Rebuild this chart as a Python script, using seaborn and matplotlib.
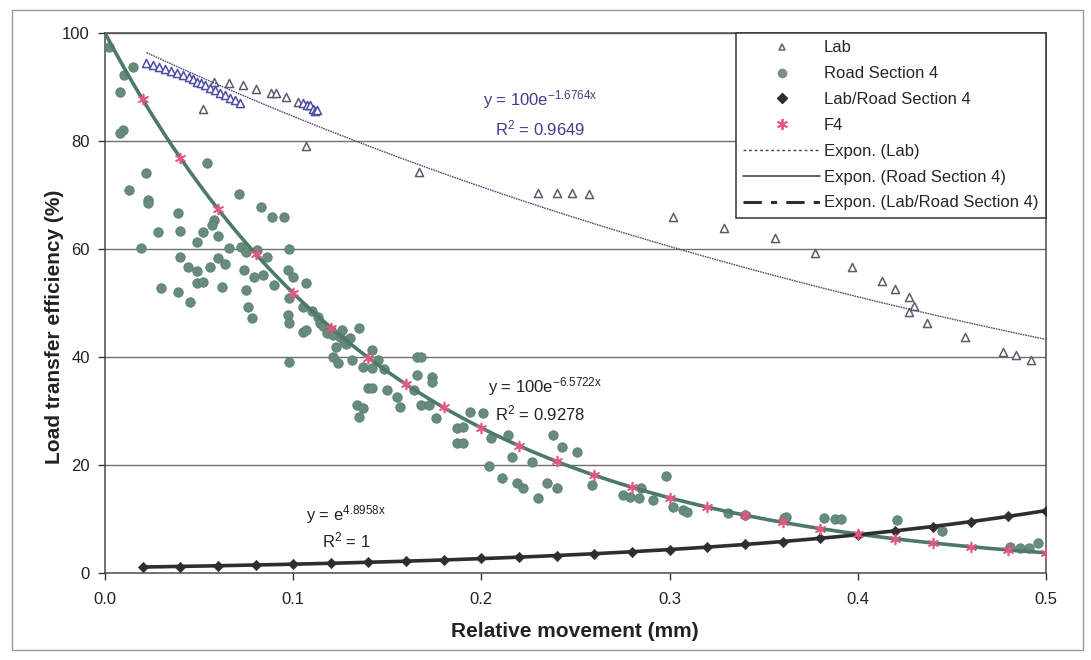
import numpy as np
import pandas as pd
import matplotlib
matplotlib.use("Agg")
import matplotlib.pyplot as plt
from matplotlib.lines import Line2D
from matplotlib.patches import Rectangle
import seaborn as sns

# ---------------- data ----------------
lab_x = [0.022, 0.0254, 0.0285, 0.032, 0.035, 0.038, 0.0414, 0.0446, 0.047, 0.049,
         0.051, 0.053, 0.0558, 0.0584, 0.061, 0.0638, 0.0664, 0.069, 0.0717,
         0.105, 0.1075, 0.109, 0.1103, 0.1115, 0.1126,
         0.052, 0.058, 0.066, 0.0735, 0.080, 0.088, 0.091, 0.096, 0.1026, 0.107,
         0.167, 0.230, 0.240, 0.248, 0.257, 0.302, 0.329, 0.356, 0.377, 0.397,
         0.413, 0.420, 0.427, 0.430, 0.427, 0.437, 0.457, 0.477, 0.484, 0.492]
lab_y = [94.4, 94.1, 93.7, 93.4, 93.0, 92.6, 92.2, 91.9, 91.5, 91.0,
         90.7, 90.4, 89.8, 89.4, 88.9, 88.5, 88.0, 87.6, 87.0,
         87.0, 86.6, 86.7, 86.0, 85.5, 85.7,
         86.0, 91.0, 90.7, 90.4, 89.6, 88.9, 88.9, 88.2, 87.2, 79.1,
         74.3, 70.3, 70.3, 70.3, 70.2, 65.9, 63.9, 62.0, 59.3, 56.7,
         54.1, 52.6, 51.1, 49.4, 48.3, 46.3, 43.7, 40.9, 40.4, 39.4]
lab_tone = ["blue"] * 25 + ["grey"] * 30

road_x = [0.002, 0.015, 0.010, 0.008, 0.0096, 0.008, 0.022, 0.054, 0.013, 0.023,
          0.023, 0.071, 0.039, 0.083, 0.089, 0.095, 0.028, 0.040, 0.058, 0.057,
          0.052, 0.060, 0.049, 0.019, 0.066, 0.072, 0.075, 0.081, 0.086, 0.098,
          0.040, 0.044, 0.049, 0.056, 0.060, 0.064, 0.074, 0.079, 0.084, 0.090,
          0.097, 0.100, 0.107, 0.049, 0.052, 0.030, 0.039, 0.045, 0.062, 0.075,
          0.076, 0.078, 0.097, 0.098, 0.105, 0.098, 0.105, 0.113, 0.120, 0.125,
          0.098, 0.107, 0.114, 0.126, 0.135, 0.123, 0.121, 0.124, 0.131, 0.142,
          0.137, 0.142, 0.140, 0.142, 0.150, 0.155, 0.157, 0.134, 0.137, 0.135,
          0.166, 0.168, 0.166, 0.174, 0.174, 0.164, 0.168, 0.172, 0.176, 0.187,
          0.190, 0.194, 0.201, 0.187, 0.190, 0.205, 0.214, 0.204, 0.216, 0.227,
          0.238, 0.243, 0.251, 0.211, 0.219, 0.222, 0.230, 0.235, 0.240, 0.259,
          0.275, 0.279, 0.284, 0.285, 0.291, 0.298, 0.302, 0.307, 0.309, 0.331,
          0.340, 0.361, 0.362, 0.382, 0.388, 0.391, 0.421, 0.445, 0.481, 0.486,
          0.491, 0.496, 0.110, 0.116, 0.118, 0.128, 0.130, 0.145, 0.148, 0.121,
          0.127]
road_y = [97.4, 93.7, 92.2, 89.0, 82.0, 81.5, 74.0, 75.9, 71.0, 69.0,
          68.5, 70.2, 66.7, 67.8, 66.0, 66.0, 63.2, 63.3, 65.3, 64.4,
          63.2, 62.4, 61.3, 60.2, 60.2, 60.4, 59.4, 59.8, 58.5, 60.0,
          58.5, 56.7, 56.0, 56.7, 58.3, 57.2, 56.1, 54.8, 55.2, 53.3,
          56.1, 54.8, 53.7, 53.7, 53.9, 52.8, 52.0, 50.2, 53.0, 52.4,
          49.3, 47.2, 47.8, 46.3, 44.6, 50.9, 49.3, 47.4, 45.0, 43.7,
          39.1, 45.0, 46.3, 45.0, 45.4, 41.9, 40.0, 38.9, 39.4, 41.3,
          38.1, 38.0, 34.3, 34.3, 33.9, 32.6, 30.7, 31.1, 30.5, 28.9,
          40.0, 40.0, 36.7, 36.3, 35.4, 33.9, 31.1, 31.1, 28.7, 26.9,
          27.0, 29.8, 29.6, 24.0, 24.0, 25.0, 25.6, 19.8, 21.5, 20.6,
          25.6, 23.3, 22.4, 17.6, 16.7, 15.7, 13.9, 16.7, 15.7, 16.3,
          14.4, 14.1, 13.9, 15.7, 13.5, 18.0, 12.2, 11.7, 11.3, 11.1,
          10.7, 10.2, 10.4, 10.2, 10.0, 10.0, 9.8, 7.8, 4.8, 4.6,
          4.6, 5.5, 48.5, 45.8, 44.5, 42.5, 43.5, 39.5, 37.8, 44.0,
          43.0]

step_x = [0.02, 0.04, 0.06, 0.08, 0.10, 0.12, 0.14, 0.16, 0.18, 0.20,
          0.22, 0.24, 0.26, 0.28, 0.30, 0.32, 0.34, 0.36, 0.38, 0.40,
          0.42, 0.44, 0.46, 0.48, 0.50]
labroad_y = [1.1, 1.2, 1.3, 1.5, 1.6, 1.8, 2.0, 2.2, 2.4, 2.7,
             2.9, 3.2, 3.6, 3.9, 4.3, 4.8, 5.3, 5.8, 6.4, 7.1,
             7.8, 8.6, 9.5, 10.5, 11.5]
f4_y = [87.7, 76.9, 67.4, 59.1, 51.9, 45.4, 39.9, 35.0, 30.7, 26.9,
        23.6, 20.7, 18.1, 15.9, 13.9, 12.2, 10.7, 9.4, 8.2, 7.2,
        6.3, 5.6, 4.9, 4.3, 3.7]

# trendline coefficients shown on the chart (y = a * exp(b x))
lab_fit = (100.0, -1.6764, "0.9649")
road_fit = (100.0, -6.5722, "0.9278")
labroad_fit = (1.0, 4.8958, "1")

x_ticks = [0.0, 0.1, 0.2, 0.3, 0.4, 0.5]
y_ticks = [0, 20, 40, 60, 80, 100]

# ---------------- style ----------------
sns.set_theme(style="white")
plt.rcParams["font.family"] = ["Liberation Sans", "DejaVu Sans"]
plt.rcParams["mathtext.fontset"] = "custom"
plt.rcParams["mathtext.rm"] = "Liberation Sans"
plt.rcParams["mathtext.it"] = "Liberation Sans:italic"
plt.rcParams["mathtext.bf"] = "Liberation Sans:bold"

fig = plt.figure(figsize=(10.91, 6.60), dpi=100)
ax = fig.add_axes([105 / 1091, 1 - 573 / 660, (1046 - 105) / 1091, (573 - 33) / 660])

fig.patches.append(Rectangle((12 / 1091, 10 / 660), 1071 / 1091, 640 / 660,
                             transform=fig.transFigure, fill=False,
                             edgecolor="#9a9a9a", linewidth=1.0))

lab_blue = "#4d4da6"
lab_grey = "#5c5c70"
road_col = "#688c7c"
road_edge = "#5a7d6d"
road_line = "#4c7a66"
dark = "#2e2e2e"
f4_col = "#e3587e"

def curve(fit, x0, x1):
    xs = np.linspace(x0, x1, 200)
    return pd.DataFrame({"x": xs, "y": fit[0] * np.exp(fit[1] * xs)})

lab_df = pd.DataFrame({"x": lab_x, "y": lab_y, "tone": lab_tone})
road_df = pd.DataFrame({"x": road_x, "y": road_y})
lr_df = pd.DataFrame({"x": step_x, "y": labroad_y})
f4_df = pd.DataFrame({"x": step_x, "y": f4_y})

# grid
for yv in y_ticks[1:]:
    ax.axhline(yv, color="#6e6e6e", linewidth=1.0, zorder=0)

# road points
sns.scatterplot(data=road_df, x="x", y="y", ax=ax, color=road_col, s=46,
                edgecolor=road_edge, linewidth=0.6, zorder=3, legend=False)

# lab points
sns.scatterplot(data=lab_df[lab_df.tone == "grey"], x="x", y="y", ax=ax, marker="^",
                s=34, facecolor="white", edgecolor=lab_grey, linewidth=1.1,
                zorder=4, legend=False)
sns.scatterplot(data=lab_df[lab_df.tone == "blue"], x="x", y="y", ax=ax, marker="^",
                s=34, facecolor="white", edgecolor=lab_blue, linewidth=1.1,
                zorder=4, legend=False)

# trendlines
lab_c = curve(lab_fit, min(lab_x), 0.5)
sns.lineplot(data=lab_c, x="x", y="y", ax=ax, color="#4f4f78", linewidth=1.0,
             linestyle=(0, (1.2, 0.6)), sort=False, estimator=None, zorder=5)
road_c = curve(road_fit, 0.0, 0.5)
sns.lineplot(data=road_c, x="x", y="y", ax=ax, color=road_line, linewidth=2.6,
             sort=False, estimator=None, zorder=5)
lr_c = curve(labroad_fit, 0.02, 0.5)
sns.lineplot(data=lr_c, x="x", y="y", ax=ax, color=dark, linewidth=2.6,
             sort=False, estimator=None, zorder=5)

# lab/road diamonds & F4
sns.scatterplot(data=lr_df, x="x", y="y", ax=ax, marker="D", s=28, color=dark,
                edgecolor=dark, zorder=6, legend=False)
sns.scatterplot(data=f4_df, x="x", y="y", ax=ax, marker=(6, 2, 0), s=50,
                color=f4_col, linewidth=1.2, zorder=6, legend=False)

# equations
eq_fs = 12
ax.text(0.231, 87.6, r"y = 100e$^{\mathrm{-1.6764x}}$", color="#3f3f8c",
        ha="center", va="center", fontsize=eq_fs)
ax.text(0.231, 82.4, r"R$^{\mathrm{2}}$ = 0.9649", color="#3f3f8c",
        ha="center", va="center", fontsize=eq_fs)
ax.text(0.234, 34.6, r"y = 100e$^{\mathrm{-6.5722x}}$", color="#222222",
        ha="center", va="center", fontsize=eq_fs)
ax.text(0.231, 29.6, r"R$^{\mathrm{2}}$ = 0.9278", color="#222222",
        ha="center", va="center", fontsize=eq_fs)
ax.text(0.128, 10.8, r"y = e$^{\mathrm{4.8958x}}$", color="#222222",
        ha="center", va="center", fontsize=eq_fs)
ax.text(0.128, 6.0, r"R$^{\mathrm{2}}$ = 1", color="#222222",
        ha="center", va="center", fontsize=eq_fs)

# axes
ax.set_xlim(0, 0.5)
ax.set_ylim(0, 100)
ax.set_xticks(x_ticks)
ax.set_xticklabels([f"{v:.1f}" for v in x_ticks])
ax.set_yticks(y_ticks)
ax.set_yticklabels([str(v) for v in y_ticks])
ax.tick_params(axis="both", direction="out", length=5, width=1, color="#333333",
               labelsize=12, labelcolor="#222222", bottom=True, left=True)
ax.tick_params(axis="x", pad=9)
ax.tick_params(axis="y", pad=6)
for side in ["left", "bottom", "right", "top"]:
    ax.spines[side].set_visible(True)
    ax.spines[side].set_color("#4a4a4a")
    ax.spines[side].set_linewidth(1.1)
ax.set_xlabel("Relative movement (mm)", fontsize=15, fontweight="bold",
              color="#222222")
ax.xaxis.set_label_coords(0.4995, -0.109)
ax.set_ylabel("Load transfer efficiency (%)", fontsize=15, fontweight="bold",
              color="#222222")
ax.yaxis.set_label_coords(-0.054, 0.455)
ax.yaxis.label.set_va("center")
ax.xaxis.label.set_va("center")

# legend
handles = [
    Line2D([], [], linestyle="none", marker="^", markersize=5, markerfacecolor="white",
           markeredgecolor=lab_grey, markeredgewidth=1.1),
    Line2D([], [], linestyle="none", marker="o", markersize=6, color="#7d8f88"),
    Line2D([], [], linestyle="none", marker="D", markersize=5, color=dark),
    Line2D([], [], linestyle="none", marker=(6, 2, 0), markersize=8, color=f4_col,
           markeredgewidth=1.3),
    Line2D([], [], color="#444444", linewidth=1.0, linestyle=(0, (2, 2))),
    Line2D([], [], color="#444444", linewidth=1.2),
    Line2D([], [], color=dark, linewidth=2.2, linestyle=(0, (6, 3, 2, 3))),
]
labels = ["Lab", "Road Section 4", "Lab/Road Section 4", "F4", "Expon. (Lab)",
          "Expon. (Road Section 4)", "Expon. (Lab/Road Section 4)"]
leg = ax.legend(handles, labels, loc="upper right", bbox_to_anchor=(1.0, 1.0),
                fontsize=12, frameon=True, fancybox=False, framealpha=1,
                edgecolor="#333333", borderpad=0.45, labelspacing=0.65,
                handlelength=4.6, handletextpad=0.25, borderaxespad=0)
leg.get_frame().set_linewidth(1.1)
leg.set_zorder(10)

fig.savefig("out.png", dpi=100)
